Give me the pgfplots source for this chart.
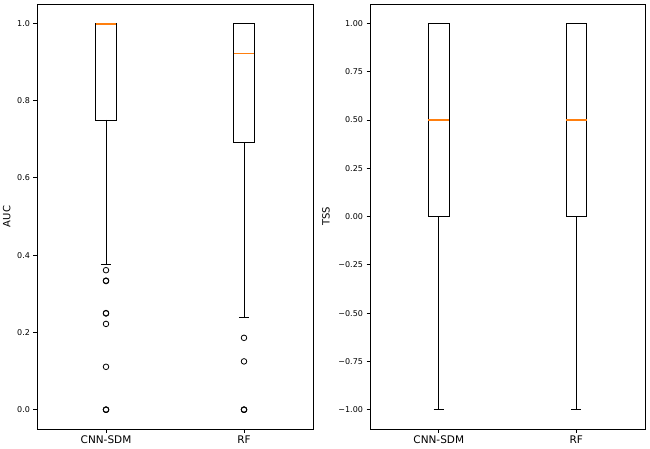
\documentclass[border=0pt]{standalone}
\usepackage{pgfplots}
\pgfplotsset{compat=1.18}
\usepgfplotslibrary{statistics}
\usepackage{fontspec}
\setmainfont{DejaVu Sans}
\definecolor{mplorange}{RGB}{255,127,14}
\begin{document}
\begin{tikzpicture}
\useasboundingbox (0pt,0pt) rectangle (650pt,448pt);
\pgfplotsset{
 mybox/.style={
  scale only axis, height=425pt, anchor=south west,
  xmin=0.5, xmax=2.5, xtick={1,2}, xticklabels={CNN-SDM,RF},
  axis line style={line width=0.8pt},
  tick align=outside, xtick pos=bottom, ytick pos=left, major tick length=3.5pt,
  tick style={black, line width=0.8pt},
  x tick label style={font=\fontsize{10.5}{12}\selectfont},
  y tick label style={font=\fontsize{8}{10}\selectfont},
  label style={font=\fontsize{8}{10}\selectfont},
  boxplot/draw direction=y,
  boxplot/box extend=0.15, boxplot/whisker extend=0.075,
  boxplot/every box/.style={draw=black, line width=0.8pt},
  boxplot/every whisker/.style={draw=black, line width=0.8pt},
  boxplot/every median/.style={draw=none},
 },
 bx/.style={line width=0.8pt, mark=none},
 med/.style={draw=mplorange, color=mplorange, line width=1.6pt, mark=none},
 outl/.style={only marks, mark=o, mark size=2.8pt, mark options={solid, draw=black, line width=0.8pt}},
}
\begin{axis}[mybox, at={(37pt,19pt)}, width=276pt,
  ymin=-0.05, ymax=1.05,
  ytick={0,0.2,0.4,0.6,0.8,1.0}, yticklabels={0.0,0.2,0.4,0.6,0.8,1.0},
  ylabel={AUC},
  every axis y label/.style={at={(axis description cs:-0.11,0.5)}, rotate=90, anchor=center}]
\addplot[bx, boxplot prepared={draw position=1, median=1.0, upper quartile=1.0, lower quartile=0.75, upper whisker=1.0, lower whisker=0.375}]
 coordinates {};
\addplot[bx, boxplot prepared={draw position=2, median=0.922, upper quartile=1.0, lower quartile=0.692, upper whisker=1.0, lower whisker=0.240}]
 coordinates {};
\addplot[outl] coordinates {(1,0.361) (1,0.334) (1,0.333) (1,0.25) (1,0.249) (1,0.222) (1,0.111) (1,0) (1,0) (1,0)};
\addplot[outl] coordinates {(2,0.186) (2,0.125) (2,0) (2,0) (2,0)};
\addplot[med] coordinates {(0.925,0.999) (1.075,0.999)};
\addplot[med] coordinates {(1.925,0.922) (2.075,0.922)};
\end{axis}
\begin{axis}[mybox, at={(370pt,19pt)}, width=275pt,
  ymin=-1.1, ymax=1.1,
  ytick={-1,-0.75,-0.5,-0.25,0,0.25,0.5,0.75,1},
  yticklabels={−1.00,−0.75,−0.50,−0.25,0.00,0.25,0.50,0.75,1.00},
  ylabel={TSS},
  every axis y label/.style={at={(axis description cs:-0.16,0.5)}, rotate=90, anchor=center}]
\addplot[bx, boxplot prepared={draw position=1, median=0.5, upper quartile=1.0, lower quartile=0.0, upper whisker=1.0, lower whisker=-1.0}]
 coordinates {};
\addplot[bx, boxplot prepared={draw position=2, median=0.5, upper quartile=1.0, lower quartile=0.0, upper whisker=1.0, lower whisker=-1.0}]
 coordinates {};
\addplot[med] coordinates {(0.925,0.5) (1.075,0.5)};
\addplot[med] coordinates {(1.925,0.5) (2.075,0.5)};
\end{axis}
\end{tikzpicture}
\end{document}
